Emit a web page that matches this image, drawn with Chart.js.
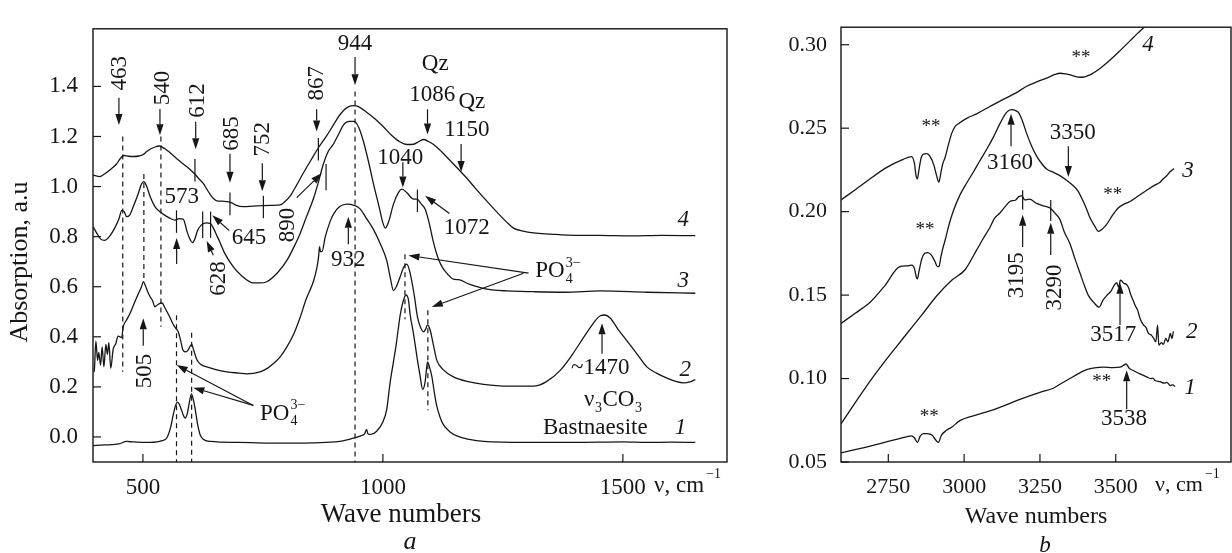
<!DOCTYPE html>
<html><head><meta charset="utf-8">
<script src="https://cdn.jsdelivr.net/npm/chart.js@4.4.1/dist/chart.umd.min.js"></script>
<style>
html,body{margin:0;padding:0;background:#fff;}
body{width:1232px;height:553px;overflow:hidden;position:relative;}
canvas{position:absolute;top:0;}
</style></head>
<body>
<canvas id="panelA" width="760" height="553" style="left:0px"></canvas>
<canvas id="panelB" width="472" height="553" style="left:760px"></canvas>
<script>
// ---------------- DATA ----------------
const aXTicks = [500, 1000, 1500];
const aYTicks = [0.0, 0.2, 0.4, 0.6, 0.8, 1.0, 1.2, 1.4];
const bXTicks = [2750, 3000, 3250, 3500];
const bYTicks = [0.05, 0.10, 0.15, 0.20, 0.25, 0.30];

// Panel a: [wave number, absorption]
const aCurve1 = [[396,-0.035],[420,-0.032],[450,-0.028],[466,-0.018],[480,-0.02],[515,-0.022],[540,-0.015],[550,-0.003],[558,0.04],[563,0.087],[568,0.125],[572,0.139],[576,0.13],[580,0.11],[584,0.088],[588,0.075],[592,0.09],[596,0.13],[601,0.172],[605,0.15],[609,0.11],[614,0.05],[619,0.01],[625,-0.008],[640,-0.018],[700,-0.022],[800,-0.025],[900,-0.02],[938,-0.005],[955,0.005],[962,0.012],[966,0.03],[969,0.012],[975,0.01],[987,0.023],[1000,0.06],[1008,0.11],[1015,0.216],[1022,0.3],[1027,0.36],[1032,0.43],[1036,0.486],[1042,0.54],[1048,0.567],[1053,0.55],[1057,0.486],[1064,0.41],[1071,0.32],[1077,0.25],[1083,0.19],[1088,0.22],[1093,0.30],[1097,0.28],[1102,0.242],[1107,0.18],[1112,0.126],[1119,0.08],[1126,0.049],[1140,0.02],[1154,0.004],[1180,-0.01],[1210,-0.018],[1300,-0.022],[1400,-0.022],[1500,-0.02],[1550,-0.022],[1600,-0.021],[1651,-0.022]];
const aCurve2 = [[397,0.26],[398.6,0.263],[402,0.383],[405.5,0.306],[408,0.338],[411.8,0.287],[415,0.36],[418.7,0.28],[422.8,0.37],[426,0.33],[429,0.377],[433,0.274],[438,0.351],[443,0.37],[448.5,0.403],[455.6,0.397],[459,0.441],[466,0.467],[473,0.493],[480,0.525],[490,0.57],[497,0.6],[501,0.62],[505,0.605],[510,0.58],[515,0.56],[520,0.545],[525,0.52],[532,0.53],[540,0.535],[546,0.515],[553,0.49],[558,0.47],[563,0.45],[568,0.435],[573.6,0.42],[578,0.39],[584,0.345],[590,0.34],[595,0.35],[601.5,0.37],[606,0.345],[612,0.31],[620,0.29],[633,0.28],[650,0.27],[675,0.26],[700,0.255],[716,0.252],[744,0.26],[760,0.275],[772,0.293],[786,0.32],[800,0.36],[814,0.41],[827,0.474],[840,0.55],[855,0.62],[863,0.68],[866,0.72],[868,0.76],[870,0.74],[873,0.74],[880,0.80],[890,0.86],[897,0.89],[910,0.92],[925,0.93],[940,0.925],[953,0.91],[965,0.875],[980,0.83],[995,0.77],[1008,0.705],[1016,0.63],[1022,0.585],[1028,0.6],[1036,0.64],[1044,0.68],[1050,0.69],[1056,0.66],[1065,0.57],[1072,0.48],[1078,0.44],[1084.6,0.42],[1089,0.43],[1093,0.448],[1098,0.43],[1105,0.37],[1112.5,0.306],[1125,0.27],[1147,0.24],[1180,0.22],[1210,0.21],[1260,0.203],[1314,0.203],[1340,0.22],[1370,0.267],[1395,0.33],[1418,0.397],[1435,0.445],[1453,0.484],[1462,0.487],[1474,0.474],[1490,0.43],[1509,0.383],[1530,0.33],[1550,0.28],[1570,0.255],[1592,0.235],[1610,0.222],[1627,0.216],[1640,0.22],[1651,0.229]];
const aCurve3 = [[396,0.84],[405,0.81],[412,0.79],[420,0.785],[430,0.8],[440,0.83],[450,0.87],[456,0.905],[461,0.9],[466,0.88],[472,0.885],[480,0.92],[490,0.97],[497,1.01],[502,1.02],[507,1.005],[515,0.96],[525,0.92],[535,0.9],[542,0.89],[555,0.875],[567,0.866],[575,0.872],[584,0.87],[592,0.82],[598,0.79],[603,0.776],[608,0.79],[614,0.825],[622,0.847],[632,0.855],[640,0.853],[648,0.83],[655,0.8],[660,0.78],[670,0.735],[688,0.68],[705,0.645],[730,0.615],[745,0.615],[758,0.62],[780,0.655],[800,0.705],[815,0.76],[827,0.81],[841,0.88],[855,0.95],[866,1.02],[876,1.09],[886,1.14],[897,1.17],[908,1.21],[918,1.246],[930,1.26],[940,1.26],[950,1.235],[959.5,1.18],[970,1.1],[980,1.014],[992,0.92],[1000,0.855],[1005,0.834],[1012,0.86],[1022,0.93],[1032,0.975],[1040,0.99],[1050,0.975],[1064,0.95],[1071,0.95],[1080,0.93],[1088,0.91],[1097,0.85],[1105,0.78],[1114,0.72],[1123,0.68],[1135,0.65],[1147,0.63],[1158,0.628],[1180,0.61],[1217,0.59],[1260,0.583],[1313,0.58],[1380,0.578],[1453,0.583],[1550,0.578],[1651,0.574]];
const aCurve4 = [[396,1.046],[410,1.04],[420,1.05],[431,1.066],[445,1.09],[453,1.112],[460,1.124],[470,1.121],[480,1.12],[492,1.122],[500,1.127],[508,1.14],[515,1.149],[525,1.158],[534,1.162],[545,1.152],[556,1.136],[570,1.112],[584,1.09],[597,1.07],[608,1.05],[617,1.03],[626,1.012],[633,0.99],[640,0.969],[647,0.952],[654,0.943],[665,0.942],[675,0.94],[684,0.936],[695,0.925],[709,0.92],[730,0.922],[751,0.924],[770,0.925],[786,0.927],[796,0.94],[807,0.963],[820,1.005],[834,1.053],[850,1.105],[866,1.156],[882,1.2],[897,1.246],[908,1.28],[918,1.304],[928,1.318],[939,1.323],[950,1.318],[966,1.297],[984,1.27],[1001,1.239],[1018,1.205],[1036,1.178],[1050,1.168],[1064,1.169],[1075,1.18],[1085,1.188],[1095,1.18],[1105,1.169],[1122,1.14],[1140,1.104],[1158,1.068],[1175,1.033],[1192,0.995],[1210,0.956],[1227,0.92],[1244,0.885],[1258,0.858],[1272,0.834],[1292,0.822],[1314,0.815],[1350,0.81],[1383,0.806],[1450,0.805],[1520,0.803],[1580,0.805],[1651,0.804]];

// Panel b: [wave number, absorption]
const bCurve1 = [[2594,0.0555],[2700,0.06],[2810,0.0651],[2827,0.0657],[2836,0.0645],[2846,0.0617],[2855,0.0655],[2866,0.067],[2878,0.067],[2895,0.066],[2905,0.0635],[2915,0.0617],[2925,0.066],[2942,0.069],[2960,0.071],[2986,0.0748],[3030,0.0777],[3100,0.0815],[3184,0.0875],[3250,0.0917],[3294,0.0942],[3320,0.097],[3349,0.1],[3375,0.1028],[3404,0.1053],[3430,0.1064],[3459,0.1068],[3490,0.1066],[3514,0.1068],[3525,0.1078],[3534,0.1087],[3545,0.106],[3558,0.1048],[3580,0.1028],[3602,0.101],[3615,0.1],[3622,0.1003],[3630,0.0988],[3646,0.0981],[3660,0.0972],[3668,0.0977],[3680,0.0958],[3688,0.0962],[3696,0.0952]];
const bCurve2 = [[2594,0.0728],[2650,0.088],[2700,0.101],[2750,0.113],[2783,0.1205],[2810,0.1267],[2860,0.138],[2910,0.1496],[2960,0.159],[3003,0.1652],[3041,0.1769],[3060,0.183],[3085,0.1905],[3100,0.196],[3118,0.1992],[3135,0.203],[3151,0.2061],[3170,0.207],[3180,0.209],[3190,0.2095],[3200,0.207],[3215,0.2075],[3239,0.205],[3260,0.2035],[3283,0.2022],[3300,0.199],[3316,0.1953],[3330,0.188],[3349,0.1808],[3365,0.172],[3382,0.1632],[3396,0.156],[3410,0.1497],[3428,0.1455],[3445,0.1428],[3458,0.147],[3470,0.1497],[3485,0.1525],[3495,0.156],[3503,0.1574],[3510,0.1545],[3515,0.159],[3520,0.1584],[3527,0.157],[3535,0.1565],[3542,0.1545],[3550,0.150],[3557,0.147],[3564,0.1438],[3572,0.141],[3580,0.136],[3591,0.1322],[3600,0.1305],[3608,0.127],[3616,0.1262],[3624,0.1244],[3632,0.122],[3638,0.132],[3642,0.12],[3650,0.1215],[3657,0.1205],[3665,0.124],[3672,0.122],[3680,0.127],[3685,0.124],[3690,0.1282]];
const bCurve3 = [[2594,0.133],[2640,0.139],[2690,0.1457],[2740,0.156],[2788,0.1671],[2815,0.1675],[2828,0.168],[2836,0.166],[2842,0.161],[2846,0.1597],[2851,0.164],[2860,0.1715],[2870,0.175],[2880,0.1755],[2892,0.174],[2904,0.17],[2912,0.167],[2917,0.1672],[2924,0.1735],[2931,0.1788],[2937,0.1827],[2950,0.192],[2964,0.2002],[2986,0.2099],[3008,0.217],[3030,0.2236],[3052,0.2305],[3074,0.2372],[3096,0.2445],[3118,0.2527],[3140,0.2595],[3157,0.2611],[3170,0.2605],[3180,0.2592],[3192,0.2545],[3206,0.2469],[3222,0.2395],[3239,0.2333],[3255,0.229],[3272,0.2255],[3295,0.2235],[3316,0.2216],[3340,0.2185],[3360,0.2155],[3375,0.2125],[3393,0.2061],[3405,0.201],[3415,0.1963],[3430,0.1915],[3443,0.1882],[3455,0.1895],[3470,0.1924],[3490,0.198],[3508,0.2022],[3527,0.2045],[3547,0.2061],[3575,0.2095],[3602,0.2128],[3630,0.216],[3645,0.2175],[3657,0.2197],[3668,0.2215],[3680,0.224],[3692,0.2259]];
const bCurve4 = [[2594,0.207],[2640,0.213],[2690,0.2197],[2745,0.2265],[2799,0.2313],[2827,0.233],[2836,0.229],[2842,0.221],[2846,0.2197],[2851,0.225],[2858,0.232],[2866,0.2345],[2877,0.2347],[2888,0.233],[2900,0.228],[2910,0.221],[2917,0.2177],[2924,0.224],[2930,0.229],[2937,0.2323],[2948,0.240],[2959,0.2469],[2970,0.251],[2981,0.2527],[3010,0.256],[3041,0.2586],[3085,0.263],[3129,0.2673],[3170,0.271],[3206,0.2751],[3240,0.2778],[3272,0.28],[3300,0.2822],[3317,0.2829],[3335,0.2825],[3350,0.2819],[3366,0.281],[3382,0.2805],[3398,0.2808],[3415,0.2819],[3430,0.2835],[3448,0.2858],[3470,0.289],[3492,0.2926],[3520,0.2975],[3547,0.3023],[3570,0.3065],[3591,0.310],[3620,0.315]];

// ---------------- ANNOTATIONS (data coordinates) ----------------
const aDashes = [[458,1.2,0.26],[502,1.05,0.63],[537.5,1.2,0.44],[570,0.486,-0.1],[601.5,0.416,-0.1],[942,1.38,-0.1],[1046,0.73,0.47],[1093.7,0.506,0.107]];
const aMarks = [[570,0.905,0.815],[624.5,0.9,0.795],[641,0.9,0.795],[608.4,1.11,1.02],[681.4,0.976,0.885],[751,0.963,0.873],[865.6,1.194,1.104],[881.6,1.09,0.985],[1072,0.988,0.898]];
const aArrows = [[450,1.355,450,1.246],[535.5,1.31,535.5,1.205],[610,1.259,610,1.149],[681.4,1.131,681.4,1.015],[748.8,1.093,748.8,0.981],[862,1.309,862,1.22],[942,1.517,942,1.405],[1093,1.309,1093,1.208],[1163,1.17,1163,1.058],[1041.6,1.097,1041.6,0.996],[1138.8,0.892,1088,0.963],[570.3,0.691,570.3,0.795],[680,0.824,644.5,0.885],[646.6,0.726,632.8,0.783],[820.5,0.956,872.7,1.053],[928,0.77,928,0.879],[500.7,0.364,500.7,0.474],[730,0.126,570.3,0.287],[730,0.126,605,0.197],[1303.5,0.654,1053.3,0.725],[1293,0.654,1102,0.519],[1456.6,0.332,1456.6,0.454]];
const aLabels = [['463',452,1.452,1],['540',541.7,1.394,1],['612',614.7,1.344,1],['685',685.6,1.212,1],['752',750.3,1.189,1],['867',862.9,1.413,1],['944',942,1.568,0],['Qz',1109,1.49,0],['1086',1102.7,1.367,0],['Qz',1185.5,1.336,0],['1150',1175,1.228,0],['1040',1036,1.116,0],['1072',1175,0.834,0],['573',580.7,0.958,0],['645',721,0.795,0],['628',658.5,0.633,1],['890',803,0.846,1],['932',928,0.707,0],['505',504,0.263,1],['~1470',1453,0.274,0],['Bastnaesite',1442.6,0.035,0]];
const aCurveNames = [['4',1626,0.865],['3',1626,0.622],['2',1630,0.266],['1',1620,0.035]];

const bMarks = [[3193,0.2128,0.2012],[3285.6,0.207,0.1944]];
const bArrows = [[3154.7,0.2391,3154.7,0.2586],[3343.7,0.2391,3343.7,0.2207],[3193,0.1788,3193,0.1982],[3285.6,0.174,3285.6,0.1934],[3514,0.1321,3514,0.1574],[3536,0.0816,3536,0.105]];
const bLabels = [['3160',3151.4,0.2294,0],['3350',3358,0.2469,0],['3195',3173.5,0.1619,1],['3290',3299.8,0.1545,1],['3517',3492,0.1263,0],['3538',3527.4,0.0757,0]];
const bStars = [[3385.6,0.2936],[2890.8,0.2527],[3490,0.2119],[2871,0.1905],[3453.8,0.10],[2885,0.0787]];
const bCurveNames = [['4',3606.5,0.2996],['3',3738,0.2243],['2',3750.6,0.1282],['1',3745,0.0942]];

// ---------------- DRAWING ----------------
const SERIF = '"Liberation Serif","Times New Roman",serif';
const INK = '#161616';

function seg(ctx,x1,y1,x2,y2){ctx.beginPath();ctx.moveTo(x1,y1);ctx.lineTo(x2,y2);ctx.stroke();}
function arrowPx(ctx,x1,y1,x2,y2){
  const ang=Math.atan2(y2-y1,x2-x1), L=11, W=3.6;
  const bx=x2-L*Math.cos(ang), by=y2-L*Math.sin(ang);
  ctx.lineWidth=1.2; seg(ctx,x1,y1,bx,by);
  ctx.beginPath();ctx.moveTo(x2,y2);
  ctx.lineTo(bx+W*Math.sin(ang),by-W*Math.cos(ang));
  ctx.lineTo(bx-W*Math.sin(ang),by+W*Math.cos(ang));
  ctx.closePath();ctx.fill();
}
function txt(ctx,s,x,y,size,rot,italic){
  ctx.save();ctx.translate(x,y);if(rot)ctx.rotate(-Math.PI/2);
  ctx.font=(italic?'italic ':'')+size+'px '+SERIF;ctx.textAlign='center';ctx.textBaseline='middle';
  ctx.fillText(s,0,0);ctx.restore();
}
// parts: [text, mode] mode: n | sub | stack(sup,sub)
function rich(ctx,parts,x,y,size,align){
  const small=Math.round(size*0.62);
  const wOf=p=>{
    if(p[1]==='n'){ctx.font=size+'px '+SERIF;return ctx.measureText(p[0]).width;}
    ctx.font=small+'px '+SERIF;
    if(p[1]==='stack') return Math.max(ctx.measureText(p[0]).width,ctx.measureText(p[2]).width);
    return ctx.measureText(p[0]).width;
  };
  let total=0;parts.forEach(p=>total+=wOf(p)+(p[1]==='n'?0:1));
  let cx=align==='center'?x-total/2:x;
  const base=y+size*0.33;
  ctx.textAlign='left';ctx.textBaseline='alphabetic';
  for(const p of parts){
    const w=wOf(p);
    if(p[1]==='n'){ctx.font=size+'px '+SERIF;ctx.fillText(p[0],cx,base);cx+=w;}
    else if(p[1]==='sub'){ctx.font=small+'px '+SERIF;ctx.fillText(p[0],cx+0.5,base+size*0.22);cx+=w+1;}
    else {ctx.font=small+'px '+SERIF;ctx.fillText(p[0],cx+1,base-size*0.45);ctx.fillText(p[2],cx+1,base+size*0.25);cx+=w+1;}
  }
}

function panelPlugin(cfg){
  return {
    id:'panelDecor',
    afterDatasetsDraw(chart){
      const ctx=chart.ctx, xs=chart.scales.x, ys=chart.scales.y, ca=chart.chartArea;
      const X=v=>xs.getPixelForValue(v), Y=v=>ys.getPixelForValue(v);
      ctx.save();
      ctx.strokeStyle=INK;ctx.fillStyle=INK;
      // frame
      ctx.lineWidth=1.4;ctx.strokeRect(ca.left,ca.top,ca.right-ca.left,ca.bottom-ca.top);
      // inward tick marks
      ctx.lineWidth=1.2;
      xs.ticks.forEach(t=>{const p=X(t.value);seg(ctx,p,ca.bottom,p,ca.bottom-8);});
      ys.ticks.forEach(t=>{const p=Y(t.value);seg(ctx,ca.left,p,ca.left+8,p);});
      // dashed guides
      ctx.setLineDash([5,4]);ctx.lineWidth=1.2;
      (cfg.dashes||[]).forEach(d=>seg(ctx,X(d[0]),Y(d[1]),X(d[0]),Y(d[2])));
      ctx.setLineDash([]);
      (cfg.marks||[]).forEach(d=>seg(ctx,X(d[0]),Y(d[1]),X(d[0]),Y(d[2])));
      (cfg.arrows||[]).forEach(a=>arrowPx(ctx,X(a[0]),Y(a[1]),X(a[2]),Y(a[3])));
      (cfg.labels||[]).forEach(l=>txt(ctx,l[0],X(l[1]),Y(l[2]),cfg.annSize,l[3],false));
      (cfg.stars||[]).forEach(s=>txt(ctx,'**',X(s[0]),Y(s[1])+3,19,0,false));
      (cfg.names||[]).forEach(n=>txt(ctx,n[0],X(n[1]),Y(n[2]),cfg.annSize,0,true));
      (cfg.rich||[]).forEach(r=>rich(ctx,r.parts,X(r.x),Y(r.y),cfg.annSize,r.align));
      // unit after the last x tick label
      ctx.textAlign='left';ctx.textBaseline='top';
      ctx.font=cfg.tickSize+'px '+SERIF;
      const ux=X(cfg.unitX), uy=ca.bottom+cfg.tickPad;
      ctx.fillText('\u03bd, cm',ux,uy);
      const uw=ctx.measureText('\u03bd, cm').width;
      ctx.font=Math.round(cfg.tickSize*0.62)+'px '+SERIF;
      ctx.fillText('\u22121',ux+uw+2,uy-7);
      // axis titles
      const cxm=(ca.left+ca.right)/2;
      txt(ctx,'Wave numbers',cxm+cfg.titleDx,cfg.titleY,cfg.titleSize,0,false);
      txt(ctx,cfg.letter,cxm+cfg.letterDx,cfg.letterY,cfg.titleSize-1,0,true);
      if(cfg.yTitle) txt(ctx,cfg.yTitle,cfg.yTitleX,cfg.yTitleY,cfg.titleSize-1,1,false);
      ctx.restore();
    }
  };
}

function curveSet(pairs){
  return {data:pairs.map(p=>({x:p[0],y:p[1]})),borderColor:INK,borderWidth:1.3,pointRadius:0,fill:false,cubicInterpolationMode:'monotone'};
}

function makePanel(id,curves,opt){
  return new Chart(document.getElementById(id),{
    type:'line',
    data:{datasets:curves.map(curveSet)},
    options:{
      responsive:false,animation:false,devicePixelRatio:1,
      layout:{padding:{top:14,right:opt.padRight,bottom:0,left:0}},
      plugins:{legend:{display:false},tooltip:{enabled:false}},
      scales:{
        x:{type:'linear',min:opt.xr[0],max:opt.xr[1],
          afterBuildTicks:s=>{s.ticks=opt.xTicks.map(v=>({value:v}));},
          afterFit:s=>{s.height=91;},
          grid:{display:false,drawTicks:false},border:{display:false},
          ticks:{autoSkip:false,maxRotation:0,padding:opt.tickPad,color:INK,font:{family:SERIF,size:opt.tickSize},callback:v=>String(v)}},
        y:{type:'linear',min:opt.yr[0],max:opt.yr[1],
          afterBuildTicks:s=>{s.ticks=opt.yTicks.map(v=>({value:v}));},
          afterFit:s=>{s.width=opt.yWidth;},
          grid:{display:false,drawTicks:false},border:{display:false},
          ticks:{autoSkip:false,padding:opt.yPad,color:INK,font:{family:SERIF,size:opt.tickSize},callback:v=>Number(v).toFixed(opt.dec)}}
      }
    },
    plugins:[panelPlugin(opt.decor)]
  });
}

makePanel('panelA',[aCurve1,aCurve2,aCurve3,aCurve4],{
  xr:[396,1717],yr:[-0.1,1.63],xTicks:aXTicks,yTicks:aYTicks,dec:1,
  yWidth:93,padRight:33,tickPad:12,yPad:15,tickSize:23,
  decor:{dashes:aDashes,marks:aMarks,arrows:aArrows,labels:aLabels,names:aCurveNames,annSize:23,
    rich:[{parts:[['PO','n'],['3\u2212','stack','4']],x:744,y:0.1,align:'left'},
          {parts:[['PO','n'],['3\u2212','stack','4']],x:1317.5,y:0.668,align:'left'},
          {parts:[['\u03bd','n'],['3','sub'],['CO','n'],['3','sub']],x:1480,y:0.152,align:'center'}],
    unitX:1565,tickSize:23,tickPad:12,titleDx:-9,titleY:515,titleSize:27,letter:'a',letterDx:0,letterY:542,
    yTitle:'Absorption, a.u',yTitleX:20,yTitleY:262}
});

makePanel('panelB',[bCurve1,bCurve2,bCurve3,bCurve4],{
  xr:[2594,3880],yr:[0.05,0.3105],xTicks:bXTicks,yTicks:bYTicks,dec:2,
  yWidth:81,padRight:1,tickPad:12,yPad:14,tickSize:22,
  decor:{marks:bMarks,arrows:bArrows,labels:bLabels,stars:bStars,names:bCurveNames,annSize:23,
    unitX:3629.6,tickSize:22,tickPad:12,titleDx:0,titleY:517,titleSize:24,letter:'b',letterDx:9,letterY:546}
});
</script>
</body></html>
